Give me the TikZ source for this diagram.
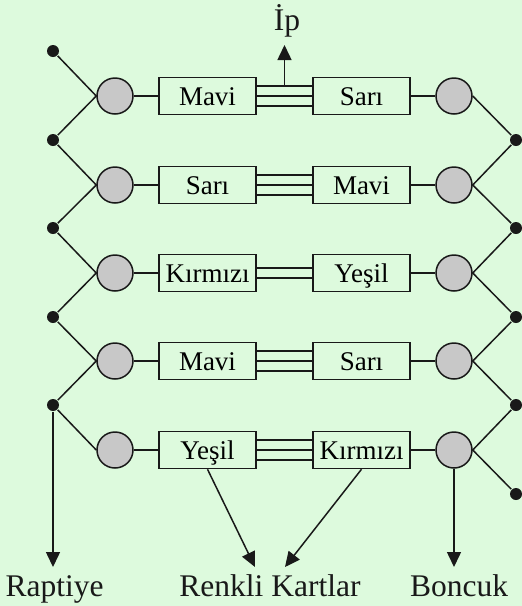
\documentclass[tikz,border=0pt]{standalone}
\usepackage{fontspec}
\setmainfont{Liberation Serif}
\usetikzlibrary{arrows.meta}
\definecolor{bg}{RGB}{221,250,221}
\definecolor{disk}{RGB}{200,200,200}
\definecolor{ink}{RGB}{25,25,25}
\begin{document}
\begin{tikzpicture}[x=1pt,y=-1pt,line width=1.5pt,
  card/.style={draw=ink,minimum width=97pt,minimum height=37pt,inner sep=0pt,
    font=\fontsize{27}{31}\selectfont,text height=18.5pt,text depth=0pt},
  bead/.style={circle,draw=ink,fill=disk,minimum size=36pt,inner sep=0pt},
  pin/.style={circle,fill=ink,minimum size=12pt,inner sep=0pt},
  lbl/.style={font=\fontsize{31.5}{36}\selectfont,anchor=base,inner sep=0pt,text=ink},
  wire/.style={draw=ink},
  arr/.style={draw=ink,-{Triangle[length=15pt,width=14pt]}}]
\fill[bg] (0,0) rectangle (522,606);
\useasboundingbox (0,0) rectangle (522,606);
% rows
\foreach \i/\y/\a/\b in {1/96/Mavi/Sarı,2/185/Sarı/Mavi,3/273/Kırmızı/Yeşil,4/361/Mavi/Sarı,5/450/Yeşil/Kırmızı}{
  \node[bead] (C\i) at (115,\y) {};
  \node[bead] (D\i) at (454,\y) {};
  \node[card] (A\i) at (207.5,\y) {\a};
  \node[card] (B\i) at (361.5,\y) {\b};
  \draw[wire] (C\i.east) -- (A\i.west);
  \draw[wire] (B\i.east) -- (D\i.west);
}
% triple / double links
\foreach \i in {1,2,4,5}{
  \draw[wire] ([yshift=10pt]A\i.east) -- ([yshift=10pt]B\i.west);
  \draw[wire] (A\i.east) -- (B\i.west);
  \draw[wire] ([yshift=-10pt]A\i.east) -- ([yshift=-10pt]B\i.west);
}
\draw[wire] ([yshift=5pt]A3.east) -- ([yshift=5pt]B3.west);
\draw[wire] ([yshift=-5pt]A3.east) -- ([yshift=-5pt]B3.west);
% pins
\foreach \j/\y in {0/51,1/140,2/228,3/317,4/405}{
  \node[pin] (L\j) at (53,\y) {};
}
\foreach \j/\y in {1/140,2/228,3/317,4/405,5/494}{
  \node[pin] (R\j) at (516,\y) {};
}
% left zigzag
\draw[wire] (L0) -- (C1.west) -- (L1) -- (C2.west) -- (L2) -- (C3.west) -- (L3) -- (C4.west) -- (L4) -- (C5.west);
% right zigzag
\draw[wire] (D1.east) -- (R1) -- (D2.east) -- (R2) -- (D3.east) -- (R3) -- (D4.east) -- (R4) -- (D5.east) -- (R5);
% labels
\node[lbl] (ip) at (287,30) {İp};
\node[lbl] (rap) at (54.5,596) {Raptiye};
\node[lbl] (ren) at (270,596) {Renkli Kartlar};
\node[lbl] (bon) at (459,596) {Boncuk};
% arrows
\coordinate (ipfoot) at (284.5,86);
\coordinate (iptip) at (284.5,45);
\draw[arr] (ipfoot) -- (iptip);
\coordinate (raptip) at (53,567);
\draw[arr] (L4) -- (raptip);
\coordinate (rentipa) at (255,567);
\coordinate (rentipb) at (285,567);
\draw[arr] (A5.south) -- (rentipa);
\draw[arr] (B5.south) -- (rentipb);
\coordinate (bontip) at (454,567);
\draw[arr] (D5.south) -- (bontip);
\end{tikzpicture}
\end{document}
